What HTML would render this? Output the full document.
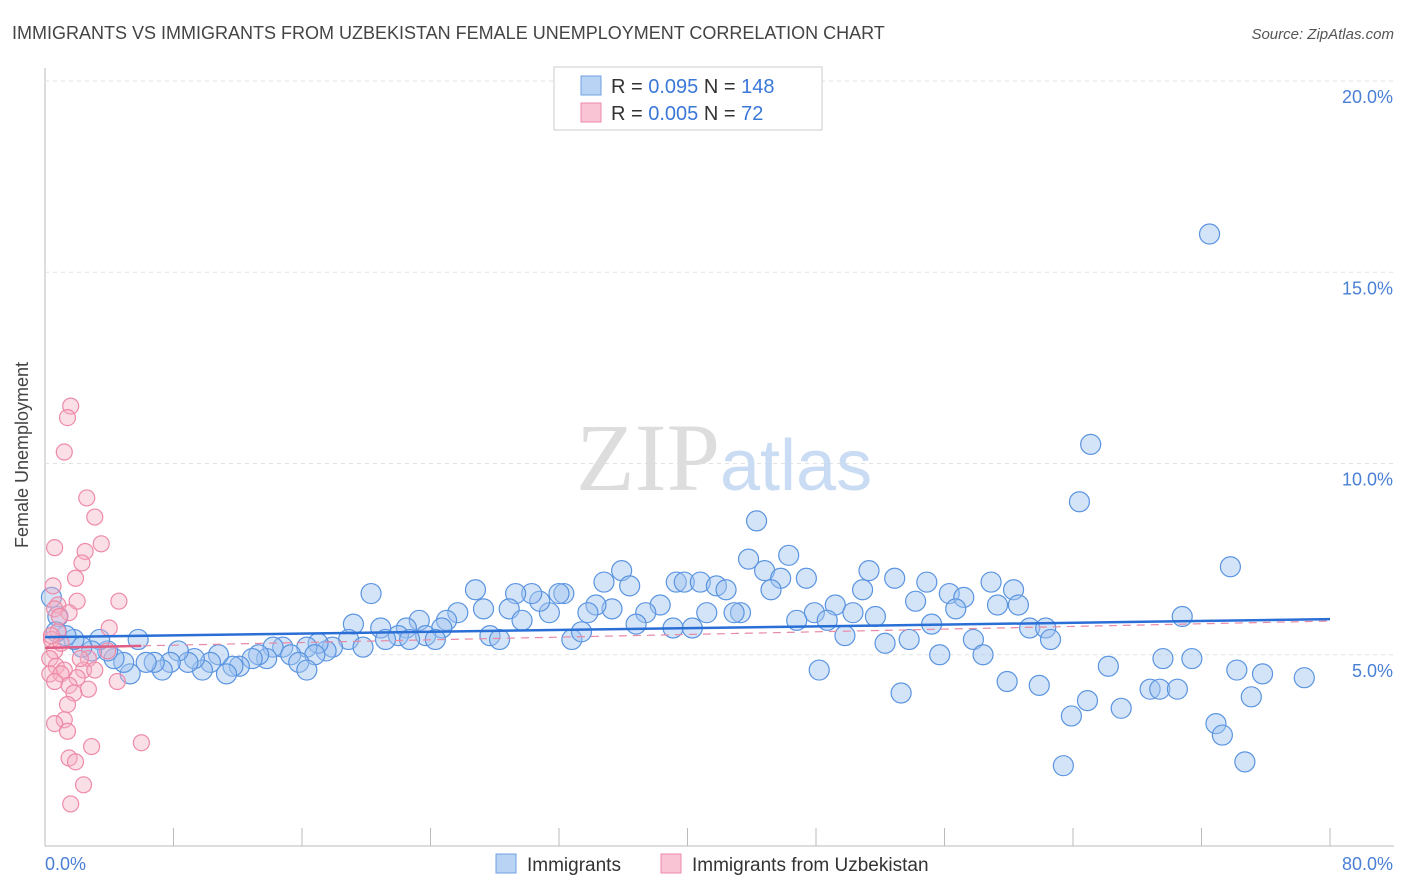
<!DOCTYPE html>
<html><head><meta charset="utf-8"><style>
body{margin:0;background:#fff;font-family:"Liberation Sans",sans-serif}
svg{display:block}
</style></head><body>
<svg id="chart" width="1406" height="892">
<text x="12" y="39" font-size="18" fill="#444">IMMIGRANTS VS IMMIGRANTS FROM UZBEKISTAN FEMALE UNEMPLOYMENT CORRELATION CHART</text>
<text x="1394" y="39" font-size="15" fill="#555" text-anchor="end" font-style="italic">Source: ZipAtlas.com</text>
<g id="grid"></g>
<text x="720" y="490" font-size="96" fill="#ddd" text-anchor="end" font-family="Liberation Serif">ZIP</text>
<text x="720" y="490" font-size="72" fill="#c9dcf3">atlas</text>
<g id="pts"></g>
<g id="trend"></g>
<text x="28" y="455" font-size="18" fill="#444" text-anchor="middle" transform="rotate(-90 28 455)">Female Unemployment</text>
<text x="45" y="870" font-size="18" fill="#4a7fd6">0.0%</text>
<text x="1393" y="870" font-size="18" fill="#4a7fd6" text-anchor="end">80.0%</text>
<g>
<rect x="554" y="67" width="268" height="63" fill="#fff" stroke="#ccc"/>
<rect x="581" y="76" width="20" height="19" fill="#b9d3f5" stroke="#6f9fe0"/>
<rect x="581" y="103" width="20" height="19" fill="#f9c4d3" stroke="#ec8aa8"/>
<text x="611" y="93" font-size="20" fill="#333">R = <tspan fill="#3a78d8">0.095</tspan>   N = <tspan fill="#3a78d8">148</tspan></text>
<text x="611" y="120" font-size="20" fill="#333">R = <tspan fill="#3a78d8">0.005</tspan>   N =  <tspan fill="#3a78d8"> 72</tspan></text>
</g>
<g>
<rect x="496" y="854" width="20" height="19" fill="#b9d3f5" stroke="#6f9fe0"/>
<text x="527" y="871" font-size="19" fill="#333">Immigrants</text>
<rect x="661" y="854" width="20" height="19" fill="#f9c4d3" stroke="#ec8aa8"/>
<text x="692" y="871" font-size="19" fill="#333">Immigrants from Uzbekistan</text>
</g>
</svg>
<script>
const yTicks=[5,10,15,20];
const xTickCount=10;
const blueX=[72.5,65.1,64.4,44.3,73.8,43.8,46.3,44.8,45.8,47.4,35.9,34.8,36.4,39.3,39.8,40.8,41.8,42.4,45.2,51.3,52.9,50.9,54.9,58.9,60.3,56.3,57.2,56.7,59.3,60.6,54.2,49.2,47.9,50.3,51.7,46.8,48.7,43.3,42.9,41.2,40.3,39.1,38.3,37.4,36.8,35.3,34.3,33.8,32.3,32.0,31.4,30.8,30.3,29.3,28.9,29.7,26.8,27.3,25.7,25.0,24.7,23.3,23.7,24.3,22.5,22.0,20.3,20.9,19.2,21.2,22.7,27.7,28.3,32.8,33.4,18.9,19.8,17.9,17.5,17.0,16.3,16.8,14.8,14.2,15.3,15.8,16.3,13.8,13.3,12.9,12.1,11.7,10.8,10.3,11.3,9.8,9.3,8.9,8.3,7.8,7.3,6.8,6.3,5.8,5.3,4.9,4.3,3.9,3.4,2.9,2.3,1.8,1.3,0.8,0.4,0.7,61.3,62.3,62.6,57.8,55.2,53.8,52.3,49.8,55.7,58.4,48.2,53.3,59.9,61.9,63.9,64.9,67.0,66.2,63.4,68.8,69.4,70.5,69.6,71.4,70.8,72.9,73.3,74.2,75.1,75.8,74.7,78.4];
const blueY=[16.0,10.5,9.0,8.5,7.3,7.5,7.6,7.2,7.0,7.0,7.2,6.9,6.8,6.9,6.9,6.9,6.8,6.7,6.7,7.2,7.0,6.7,6.9,6.9,6.7,6.6,6.5,6.2,6.3,6.3,6.4,6.3,6.1,6.1,6.0,5.9,5.9,6.1,6.1,6.1,5.7,5.7,6.3,6.1,5.8,6.2,6.3,6.1,6.6,6.6,6.1,6.4,6.6,6.6,6.2,5.9,6.7,6.2,6.1,5.9,5.7,5.9,5.5,5.4,5.7,5.5,6.6,5.7,5.8,5.4,5.4,5.5,5.4,5.4,5.6,5.4,5.2,5.2,5.1,5.3,5.2,5.0,5.2,5.2,5.0,4.8,4.6,4.9,5.0,4.9,4.7,4.7,5.0,4.8,4.5,4.6,4.9,4.8,5.1,4.8,4.6,4.8,4.8,5.4,4.5,4.8,4.9,5.1,5.4,5.1,5.2,5.4,5.5,6.0,6.5,5.6,5.7,5.7,5.4,5.4,5.8,5.4,5.3,5.5,5.0,5.0,4.6,4.0,4.3,4.2,3.4,3.8,3.6,4.7,2.1,4.1,4.1,4.1,4.9,4.9,6.0,3.2,2.9,4.6,3.9,4.5,2.2,4.4];
const pinkX=[1.6,1.4,1.2,2.6,3.1,3.5,2.5,0.6,2.3,1.9,0.5,4.6,2.0,0.8,1.5,0.6,4.0,0.9,0.8,0.4,0.6,1.0,3.9,2.7,0.3,0.7,1.2,0.3,2.4,3.1,1.0,2.0,0.6,1.5,2.7,1.8,4.5,1.4,1.2,0.6,1.4,2.9,1.5,1.9,6.0,2.4,1.6,2.2,0.4];
const pinkY=[11.5,11.2,10.3,9.1,8.6,7.9,7.7,7.8,7.4,7.0,6.8,6.4,6.4,6.3,6.1,6.2,5.7,6.0,5.6,5.4,5.1,5.3,5.1,4.9,4.9,4.7,4.6,4.5,4.6,4.6,4.5,4.4,4.3,4.2,4.1,4.0,4.3,3.7,3.3,3.2,3.0,2.6,2.3,2.2,2.7,1.6,1.1,4.9,5.5];
const blueTrend=[5.46,5.93];
const pinkTrend=[5.18,5.88];
const X=v=>45+v/80*1285, Y=v=>846-v/20*765;
const NS='http://www.w3.org/2000/svg';
function mk(p,t,a){const e=document.createElementNS(NS,t);for(const k in a)e.setAttribute(k,a[k]);p.appendChild(e);return e;}
const g=document.getElementById('grid');
const ax=mk(g,'line',{x1:45,y1:68,x2:45,y2:846,stroke:'#bbb'});


const bx=mk(g,'line',{x1:45,y1:846,x2:1394,y2:846,stroke:'#bbb'});


yTicks.forEach(t=>{
 const l=mk(g,'line',{x1:45,y1:Y(t),x2:1394,y2:Y(t),stroke:'#e2e2e2','stroke-dasharray':'4 4'});
 
 
 const tx=mk(g,'text',{x:1393,y:Y(t)+22,'font-size':18,fill:'#4a7fd6','text-anchor':'end'});
 tx.textContent=t.toFixed(1)+'%';
 
 
});
for(let i=0;i<=xTickCount;i++){
 const l=mk(g,'line',{x1:X(i*80/xTickCount),y1:828,x2:X(i*80/xTickCount),y2:846,stroke:'#bbb'});
 
 
}
const p=document.getElementById('pts');
blueX.forEach((v,i)=>{
 const c=mk(p,'circle',{cx:X(v),cy:Y(blueY[i]),r:10,fill:'rgba(160,196,240,0.45)',stroke:'#5a94e0','stroke-width':1.2});
 
 
});
pinkX.forEach((v,i)=>{
 const c=mk(p,'circle',{cx:X(v),cy:Y(pinkY[i]),r:8,fill:'rgba(246,176,196,0.4)',stroke:'#ee8aa8','stroke-width':1.2});
 
 
});
const tr=document.getElementById('trend');
const pd=mk(tr,'line',{x1:X(0),y1:Y(pinkTrend[0]),x2:X(80),y2:Y(pinkTrend[1]),stroke:'#e88aa5','stroke-width':1.2,'stroke-dasharray':'8 6'});


const ps=mk(tr,'line',{x1:X(0),y1:Y(pinkTrend[0]),x2:X(6),y2:Y(pinkTrend[0]+(pinkTrend[1]-pinkTrend[0])*6/80),stroke:'#e05d85','stroke-width':2.5});


const bl=mk(tr,'line',{x1:X(0),y1:Y(blueTrend[0]),x2:X(80),y2:Y(blueTrend[1]),stroke:'#2a6fd6','stroke-width':2.5});


</script>
</body></html>
